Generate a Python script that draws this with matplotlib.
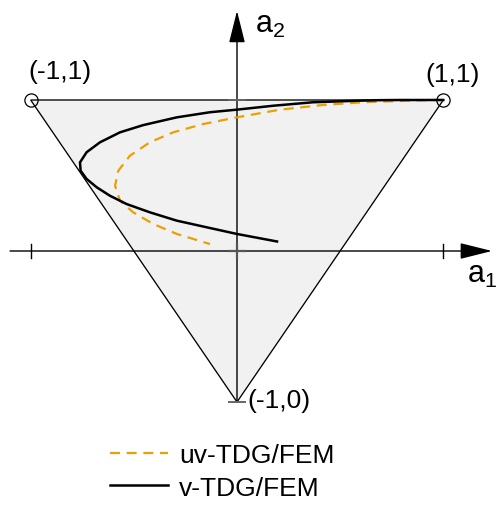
import matplotlib
matplotlib.use("Agg")
import matplotlib.pyplot as plt
from matplotlib.patches import Polygon

plt.rcParams['font.family'] = ['Liberation Sans', 'DejaVu Sans']
plt.rcParams['mathtext.fontset'] = 'custom'
plt.rcParams['mathtext.rm'] = 'Liberation Sans'

# admissible region (triangle) in the (a1, a2) plane
tri_a1 = [-1.0, 1.0, 0.0]
tri_a2 = [1.0, 1.0, -1.0]

# v-TDG/FEM path
v_a1 = [1.0, 0.790, 0.693, 0.580, 0.368, 0.176, -0.001, -0.131, -0.292, -0.454,
        -0.567, -0.664, -0.729, -0.761, -0.758, -0.729, -0.680, -0.616, -0.535,
        -0.422, -0.292, -0.147, -0.001, 0.194]
v_a2 = [1.0, 1.0, 0.999, 0.995, 0.985, 0.962, 0.936, 0.919, 0.885, 0.834,
        0.786, 0.720, 0.654, 0.587, 0.532, 0.477, 0.422, 0.366, 0.311,
        0.256, 0.201, 0.157, 0.113, 0.063]

# uv-TDG/FEM path
uv_a1 = [1.0, 0.968, 0.823, 0.611, 0.417, 0.208, -0.001, -0.163, -0.309, -0.422,
         -0.519, -0.575, -0.591, -0.567, -0.503, -0.406, -0.292, -0.131]
uv_a2 = [1.0, 1.0, 0.995, 0.985, 0.967, 0.936, 0.885, 0.841, 0.786, 0.720,
         0.631, 0.532, 0.432, 0.333, 0.256, 0.179, 0.113, 0.046]

corner_labels = ['(-1,1)', '(1,1)', '(-1,0)']

fig = plt.figure(figsize=(4.96, 5.06), dpi=100)
ax = fig.add_axes([0, 0, 1, 1])
ax.set_xlim(-237 / 206.3, 259 / 206.3)
ax.set_ylim(-254 / 151, 252 / 151)
ax.axis('off')

ax.add_patch(Polygon(list(zip(tri_a1, tri_a2)), closed=True, facecolor='#f1f1f1',
                     edgecolor='black', lw=0.95, zorder=1))

# coordinate axes with arrow heads
arrow = dict(arrowstyle='-|>,head_length=2.0,head_width=0.5', mutation_scale=10,
             lw=1.0, color='black', shrinkA=0, shrinkB=0)
ax.annotate('', xy=(1.236, 0), xytext=(-1.10, 0), arrowprops=arrow, zorder=2)
ax.annotate('', xy=(0, 1.59), xytext=(0, -1.0), arrowprops=arrow, zorder=2)

# tick marks
tx, ty = 0.038, 0.046
for x in (-1, 1):
    ax.plot([x, x], [-ty, ty], color='black', lw=1.0, zorder=2)
ax.plot([-tx, tx], [0, 0], color='#555555', lw=1.6, zorder=2)
ax.plot([0, 0], [-ty, ty], color='#555555', lw=1.6, zorder=2)
for y in (1, -1):
    ax.plot([-tx, tx], [y, y], color='#666666', lw=1.4, zorder=2)

ax.plot(uv_a1, uv_a2, color='#E8A100', lw=1.6, linestyle=(0, (4.5, 3.0)),
        label='uv-TDG/FEM', zorder=3)
ax.plot(v_a1, v_a2, color='black', lw=1.8, label='v-TDG/FEM', zorder=4)

# open circles at the two upper corners
ax.plot([-1, 1], [1, 1], linestyle='none', marker='o', markersize=9.5,
        markerfacecolor='none', markeredgecolor='black', markeredgewidth=0.9, zorder=5)

ax.text(-0.86, 1.19, corner_labels[0], fontsize=19, ha='center', va='center')
ax.text(1.047, 1.17, corner_labels[1], fontsize=19, ha='center', va='center')
ax.text(0.048, -0.99, corner_labels[2], fontsize=19, ha='left', va='center')

ax.text(0.087, 1.45, r'$\mathregular{a_2}$', fontsize=22, ha='left', va='baseline')
ax.text(1.115, -0.205, r'$\mathregular{a_1}$', fontsize=22, ha='left', va='baseline')

ax.legend(loc='upper left', bbox_to_anchor=(0.222, 0.1225), frameon=False,
          fontsize=19, handlelength=2.2, handletextpad=0.42, labelspacing=0.33,
          borderpad=0, borderaxespad=0)

fig.savefig('out.png', dpi=100)
